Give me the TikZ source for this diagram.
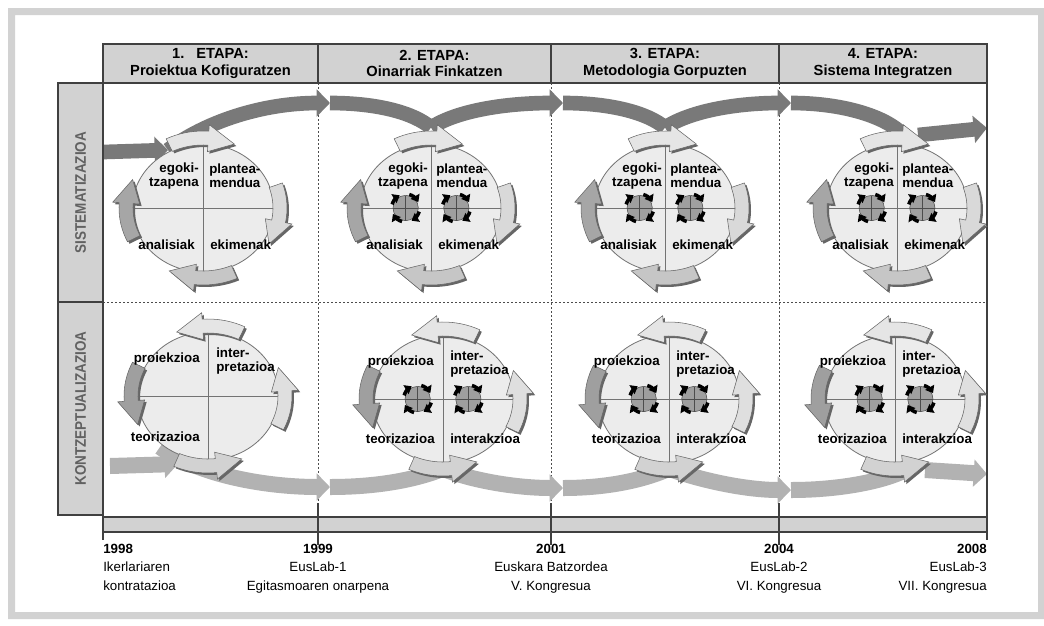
\documentclass[tikz,border=0pt]{standalone}
\usepackage{fontspec}
\setmainfont{Liberation Sans}
\usetikzlibrary{shapes.geometric}
\usetikzlibrary{arrows.meta}

\pgfdeclarelayer{bg}
\pgfsetlayers{bg,main}

% ring of the cycle arrows (px)
\def\arx{77}
\def\ary{70}
\def\shw{7}
\def\hdw{13.5}

\newcommand{\cycpath}[3]{plot[domain=#1:#2,samples=10] ({(\arx+\shw)*cos(\x)},{(\ary+\shw)*sin(\x)})
  -- ({(\arx+\hdw)*cos(#2)},{(\ary+\hdw)*sin(#2)}) -- ({\arx*cos(#3)},{\ary*sin(#3)})
  -- ({(\arx-\hdw)*cos(#2)},{(\ary-\hdw)*sin(#2)})
  -- plot[domain=#2:#1,samples=10] ({(\arx-\shw)*cos(\x)},{(\ary-\shw)*sin(\x)}) -- cycle}

\newcommand{\cycarrow}[5]{%
  \begin{scope}[shift={(#1)}]
    \fill[gray!80!black, shift={(2,2)}] \cycpath{#2}{#3}{#4};
    \filldraw[fill=#5, draw=gray!80!black, line width=0.4pt] \cycpath{#2}{#3}{#4};
  \end{scope}}

\newcommand{\spinicon}[1]{%
  \begin{scope}[shift={(#1)}]
    \filldraw[fill=gray!75, draw=black!70, line width=0.4pt] (0,0) circle[radius=9.5pt];
    \draw[black!70, line width=0.5pt] (-12.5,0) -- (12.5,0) (0,-12.5) -- (0,12.5);
    \foreach \p/\q in {-75/-25, 15/65, 105/155, 195/245}
      \draw[black, line width=2.6pt, -{Triangle[length=5pt,width=7.5pt]}]
        plot[domain=\p:\q, samples=6] ({14*cos(\x)},{14*sin(\x)});
  \end{scope}}

\tikzset{
  cell/.style={draw=black!75, fill=gray!35, line width=0.9pt},
  frameline/.style={draw=black!75, line width=0.9pt},
  divline/.style={draw=black!70, line width=0.5pt, dash pattern=on 1.5pt off 1.5pt},
  headtxt/.style={font=\bfseries\fontsize{11}{12.5}\selectfont, align=center},
  rowlbl/.style={rotate=90, text=black!62, font=\bfseries\fontsize{11.5}{12}\selectfont},
  ell/.style={ellipse, draw=gray!90!black, fill=gray!15, line width=0.6pt,
              minimum width=106pt, minimum height=96pt, inner sep=0pt},
  quadline/.style={draw=gray!90!black, line width=0.6pt},
  lbl/.style={font=\bfseries\fontsize{10}{10.5}\selectfont, inner sep=0pt},
  yeartxt/.style={font=\fontsize{10}{13.8}\selectfont, inner sep=0pt},
  topband/.style={draw=gray!95!black, line width=11pt},
  botband/.style={draw=gray!60, line width=12pt},
  bandhead/.style={-{Triangle[length=10pt,width=20pt]}}
}

\begin{document}
\begin{tikzpicture}[x=0.75pt,y=-0.75pt]
\useasboundingbox (0,0) rectangle (1044,625);

% grey frame round the page
\fill[gray!35, even odd rule] (8,8) rectangle (1044,619) (15,15) rectangle (1038,612);

% stage headers
\draw[cell] (103,44) rectangle (987,83);
\draw[frameline] (318,44) -- (318,83) (551,44) -- (551,83) (779,44) -- (779,83);
\node[headtxt] (h1) at (210.5,63.5) {1.\hspace{9pt}ETAPA:\\Proiektua Kofiguratzen};
\node[headtxt] (h2) at (434.5,63.5) {2. ETAPA:\\Oinarriak Finkatzen};
\node[headtxt] (h3) at (665,63.5) {3. ETAPA:\\Metodologia Gorpuzten};
\node[headtxt] (h4) at (883,63.5) {4. ETAPA:\\Sistema Integratzen};

% row labels
\draw[cell] (58,83) rectangle (103,515);
\draw[frameline] (58,302) -- (103,302);
\node[rowlbl] (r1) at (80.5,192.5) {\scalebox{0.88}[1]{SISTEMATIZAZIOA}};
\node[rowlbl] (r2) at (80.5,408.5) {\scalebox{0.88}[1]{KONTZEPTUALIZAZIOA}};

% time line
\draw[cell] (103,517) rectangle (987,532);
\draw[frameline] (103,83) -- (103,540) (987,83) -- (987,540);
\draw[frameline] (318,503) -- (318,545) (551,503) -- (551,545) (779,503) -- (779,545);

% cycles, upper row
\node[ell] (s1) at (203,208) {};
\node[ell] (s2) at (431,208) {};
\node[ell] (s3) at (665,208) {};
\node[ell] (s4) at (897,208) {};
% cycles, lower row
\node[ell] (k1) at (208,396) {};
\node[ell] (k2) at (443,399) {};
\node[ell] (k3) at (669,399) {};
\node[ell] (k4) at (895,399) {};

\draw[quadline] (s1.west) -- (s1.east) (s1.north) -- (s1.south);
\draw[quadline] (s2.west) -- (s2.east) (s2.north) -- (s2.south);
\draw[quadline] (s3.west) -- (s3.east) (s3.north) -- (s3.south);
\draw[quadline] (s4.west) -- (s4.east) (s4.north) -- (s4.south);
\draw[quadline] (k1.west) -- (k1.east) (k1.north) -- (k1.south);
\draw[quadline] (k2.west) -- (k2.east) (k2.north) -- (k2.south);
\draw[quadline] (k3.west) -- (k3.east) (k3.north) -- (k3.south);
\draw[quadline] (k4.west) -- (k4.east) (k4.north) -- (k4.south);

% band anchors
\coordinate (tin) at (104,152);
\coordinate (t0) at (168,150);
\coordinate (p1) at (330,103);
\coordinate (p2) at (563,103);
\coordinate (p3) at (791,103);
\coordinate (s2t) at ([yshift=12pt]s2.north);
\coordinate (s3t) at ([yshift=12pt]s3.north);
\coordinate (s4t) at ([shift={(5,-10)}]s4.north);
\coordinate (tout) at (918,135);
\coordinate (tend) at (987,128);
\coordinate (bin) at (110,466);
\coordinate (b0) at (178,464);
\coordinate (b1) at (160,447);
\coordinate (q1) at (330,487);
\coordinate (q2) at (563,488);
\coordinate (q3) at (791,490);
\coordinate (k2b) at ([yshift=-4pt]k2.south);
\coordinate (k3b) at ([yshift=-4pt]k3.south);
\coordinate (k4b) at ([shift={(15,4)}]k4.south);
\coordinate (bout) at (925,470);
\coordinate (bend) at (987,474);

\begin{pgfonlayer}{bg}
\draw[divline] (103,302) -- (987,302);
\draw[divline] (318,83) -- (318,503) (551,83) -- (551,503) (779,83) -- (779,503);
% upper band
\draw[topband, bandhead] (tin) -- (t0);
\draw[topband, bandhead] (t0) .. controls (205,122) and (262,103) .. (p1);
\draw[topband] (p1) .. controls (378,103) and (414,113) .. (s2t);
\draw[topband, bandhead] (s2t) .. controls (458,110) and (508,103) .. (p2);
\draw[topband] (p2) .. controls (611,103) and (648,113) .. (s3t);
\draw[topband, bandhead] (s3t) .. controls (692,110) and (740,103) .. (p3);
\draw[topband] (p3) .. controls (842,103) and (884,116) .. (s4t);
\draw[topband, bandhead] (tout) -- (tend);
% lower band
\draw[botband, bandhead] (bin) -- (b0);
\draw[botband, bandhead] (b1) .. controls (200,476) and (268,487) .. (q1);
\draw[botband] (q1) .. controls (383,487) and (420,478) .. (k2b);
\draw[botband, bandhead] (k2b) .. controls (470,480) and (515,488) .. (q2);
\draw[botband] (q2) .. controls (613,488) and (648,478) .. (k3b);
\draw[botband, bandhead] (k3b) .. controls (700,480) and (745,490) .. (q3);
\draw[botband] (q3) .. controls (843,490) and (890,480) .. (k4b);
\draw[botband, bandhead] (bout) -- (bend);
\end{pgfonlayer}

% small turning wheels
\spinicon{[xshift=-19pt]s2.center} \spinicon{[xshift=19pt]s2.center}
\spinicon{[xshift=-19pt]s3.center} \spinicon{[xshift=19pt]s3.center}
\spinicon{[xshift=-19pt]s4.center} \spinicon{[xshift=19pt]s4.center}
\spinicon{[xshift=-19pt]k2.center} \spinicon{[xshift=19pt]k2.center}
\spinicon{[xshift=-19pt]k3.center} \spinicon{[xshift=19pt]k3.center}
\spinicon{[xshift=-19pt]k4.center} \spinicon{[xshift=19pt]k4.center}

% cycle arrows, upper row (clockwise)
\cycarrow{s1}{-116}{-86}{-66}{gray!20} \cycarrow{s1}{-19}{11}{31}{gray!30}
\cycarrow{s1}{66}{96}{116}{gray!45} \cycarrow{s1}{154}{184}{204}{gray!70}
\cycarrow{s2}{-116}{-86}{-66}{gray!20} \cycarrow{s2}{-19}{11}{31}{gray!30}
\cycarrow{s2}{66}{96}{116}{gray!45} \cycarrow{s2}{154}{184}{204}{gray!70}
\cycarrow{s3}{-116}{-86}{-66}{gray!20} \cycarrow{s3}{-19}{11}{31}{gray!30}
\cycarrow{s3}{66}{96}{116}{gray!45} \cycarrow{s3}{154}{184}{204}{gray!70}
\cycarrow{s4}{-116}{-86}{-66}{gray!20} \cycarrow{s4}{-19}{11}{31}{gray!30}
\cycarrow{s4}{66}{96}{116}{gray!45} \cycarrow{s4}{154}{184}{204}{gray!70}
% cycle arrows, lower row (counter-clockwise)
\cycarrow{k1}{-64}{-94}{-114}{gray!20} \cycarrow{k1}{206}{176}{156}{gray!75}
\cycarrow{k1}{114}{84}{64}{gray!35} \cycarrow{k1}{26}{-4}{-24}{gray!25}
\cycarrow{k2}{-64}{-94}{-114}{gray!20} \cycarrow{k2}{206}{176}{156}{gray!75}
\cycarrow{k2}{114}{84}{64}{gray!35} \cycarrow{k2}{26}{-4}{-24}{gray!25}
\cycarrow{k3}{-64}{-94}{-114}{gray!20} \cycarrow{k3}{206}{176}{156}{gray!75}
\cycarrow{k3}{114}{84}{64}{gray!35} \cycarrow{k3}{26}{-4}{-24}{gray!25}
\cycarrow{k4}{-64}{-94}{-114}{gray!20} \cycarrow{k4}{206}{176}{156}{gray!75}
\cycarrow{k4}{114}{84}{64}{gray!35} \cycarrow{k4}{26}{-4}{-24}{gray!25}

% quarter labels, upper row
\node[lbl, anchor=east, align=right] (s1a) at ([shift={(-4,-32)}]s1.center) {egoki-\\tzapena};
\node[lbl, anchor=west, align=left] (s1b) at ([shift={(6,-32)}]s1.center) {plantea-\\mendua};
\node[lbl, anchor=east] (s1c) at ([shift={(-8,37)}]s1.center) {analisiak};
\node[lbl, anchor=west] (s1d) at ([shift={(7,37)}]s1.center) {ekimenak};
\node[lbl, anchor=east, align=right] (s2a) at ([shift={(-3,-32)}]s2.center) {egoki-\\tzapena};
\node[lbl, anchor=west, align=left] (s2b) at ([shift={(5,-32)}]s2.center) {plantea-\\mendua};
\node[lbl, anchor=east] (s2c) at ([shift={(-8,37)}]s2.center) {analisiak};
\node[lbl, anchor=west] (s2d) at ([shift={(7,37)}]s2.center) {ekimenak};
\node[lbl, anchor=east, align=right] (s3a) at ([shift={(-3,-32)}]s3.center) {egoki-\\tzapena};
\node[lbl, anchor=west, align=left] (s3b) at ([shift={(5,-32)}]s3.center) {plantea-\\mendua};
\node[lbl, anchor=east] (s3c) at ([shift={(-8,37)}]s3.center) {analisiak};
\node[lbl, anchor=west] (s3d) at ([shift={(7,37)}]s3.center) {ekimenak};
\node[lbl, anchor=east, align=right] (s4a) at ([shift={(-3,-32)}]s4.center) {egoki-\\tzapena};
\node[lbl, anchor=west, align=left] (s4b) at ([shift={(5,-32)}]s4.center) {plantea-\\mendua};
\node[lbl, anchor=east] (s4c) at ([shift={(-8,37)}]s4.center) {analisiak};
\node[lbl, anchor=west] (s4d) at ([shift={(7,37)}]s4.center) {ekimenak};

% quarter labels, lower row
\node[lbl, anchor=east] (k1a) at ([shift={(-8,-37)}]k1.center) {proiekzioa};
\node[lbl, anchor=west, align=left] (k1b) at ([shift={(8,-35)}]k1.center) {inter-\\pretazioa};
\node[lbl, anchor=east] (k1c) at ([shift={(-8,41)}]k1.center) {teorizazioa};
\node[lbl, anchor=east] (k2a) at ([shift={(-9,-37)}]k2.center) {proiekzioa};
\node[lbl, anchor=west, align=left] (k2b) at ([shift={(7,-35)}]k2.center) {inter-\\pretazioa};
\node[lbl, anchor=east] (k2c) at ([shift={(-8,40)}]k2.center) {teorizazioa};
\node[lbl, anchor=west] (k2d) at ([shift={(7,40)}]k2.center) {interakzioa};
\node[lbl, anchor=east] (k3a) at ([shift={(-9,-37)}]k3.center) {proiekzioa};
\node[lbl, anchor=west, align=left] (k3b) at ([shift={(7,-35)}]k3.center) {inter-\\pretazioa};
\node[lbl, anchor=east] (k3c) at ([shift={(-8,40)}]k3.center) {teorizazioa};
\node[lbl, anchor=west] (k3d) at ([shift={(7,40)}]k3.center) {interakzioa};
\node[lbl, anchor=east] (k4a) at ([shift={(-9,-37)}]k4.center) {proiekzioa};
\node[lbl, anchor=west, align=left] (k4b) at ([shift={(7,-35)}]k4.center) {inter-\\pretazioa};
\node[lbl, anchor=east] (k4c) at ([shift={(-8,40)}]k4.center) {teorizazioa};
\node[lbl, anchor=west] (k4d) at ([shift={(7,40)}]k4.center) {interakzioa};

% years
\node[yeartxt, anchor=north west, align=left] (y1) at (103,544) {\textbf{1998}\\Ikerlariaren\\kontratazioa};
\node[yeartxt, anchor=north, align=center] (y2) at (318,544) {\textbf{1999}\\EusLab-1\\Egitasmoaren onarpena};
\node[yeartxt, anchor=north, align=center] (y3) at (551,544) {\textbf{2001}\\Euskara Batzordea\\V. Kongresua};
\node[yeartxt, anchor=north, align=center] (y4) at (779,544) {\textbf{2004}\\EusLab-2\\VI. Kongresua};
\node[yeartxt, anchor=north east, align=right] (y5) at (987,544) {\textbf{2008}\\EusLab-3\\VII. Kongresua};
\end{tikzpicture}
\end{document}
